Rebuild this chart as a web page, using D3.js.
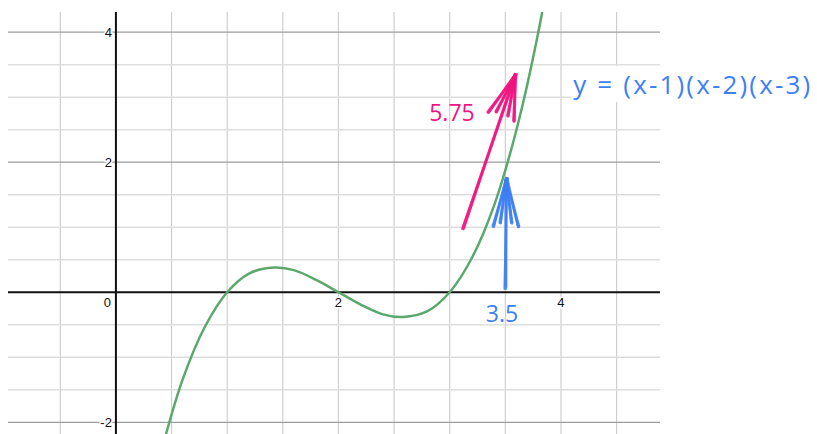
<!DOCTYPE html>
<html>
	<head>
		<meta http-equiv="Content-Type" content="text/html;charset=utf-8"/>
		<title>y = (x-1)(x-2)(x-3)</title>
		<script src="https://d3js.org/d3.v7.min.js"></script>
		<style type="text/css">
			body { margin: 0; background: #fff; }
			.grid-v { stroke: #cfcfcf; stroke-width: 1.2; }
			.grid-h { stroke: #dedede; stroke-width: 1.5; }
			.grid-h.major { stroke: #9c9c9c; stroke-width: 1.2; }
			.axis-line { stroke: #111; stroke-width: 2; }
			.tick-label {
				font-family: "Liberation Sans", Arial, sans-serif;
				font-size: 13px;
				fill: #111;
				paint-order: stroke;
				stroke: #fff;
				stroke-width: 3px;
			}
			.curve { fill: none; stroke: #5aa86b; stroke-width: 2.5; }
			.hand { font-family: "Open Sans", sans-serif; font-weight: 500; }
		</style>
	</head>
	<body>
		<script type="text/javascript">

			//Points
			var curveX = [0.30, 0.40, 0.60, 0.80, 1.00, 1.20, 1.42, 1.60, 1.80, 2.00, 2.20, 2.40, 2.58, 2.80, 3.00, 3.20, 3.40, 3.60, 3.80, 3.95];
			var curveY = [-3.22, -2.50, -1.34, -0.53, 0.00, 0.29, 0.38, 0.34, 0.19, 0.00, -0.19, -0.34, -0.38, -0.29, 0.00, 0.53, 1.34, 2.50, 4.03, 5.49];

			//Grid and tick labels
			var gridX = [-0.5, 0, 0.5, 1, 1.5, 2, 2.5, 3, 3.5, 4, 4.5];
			var gridY = [-2, -1.5, -1, -0.5, 0, 0.5, 1, 1.5, 2, 2.5, 3, 3.5, 4];
			var xLabels = [2, 4];
			var yLabels = [-2, 2, 4];

			//Annotations
			var equation = "y = (x-1)(x-2)(x-3)";
			var pinkLabel = "5.75";
			var blueLabel = "3.5";
			var pinkArrow = [[3.12, 0.98], [3.59, 3.34]];
			var blueArrow = [[3.50, 0.06], [3.51, 1.74]];

			var w = 817,
				h = 434;

			var xScale = d3.scaleLinear().domain([-0.97, 4.89]).range([8, 660]);
			var yScale = d3.scaleLinear().domain([-2.18, 4.31]).range([434, 12]);

			var svg = d3.select("body").append("svg")
						.attr("width", w)
						.attr("height", h);

			svg.append("clipPath").attr("id", "plot")
				.append("rect")
				.attr("x", 8).attr("y", 12)
				.attr("width", 652).attr("height", 422);

			//Grid
			svg.selectAll("line.grid-v")
				.data(gridX)
				.enter()
				.append("line")
				.attr("class", "grid-v")
				.attr("x1", function(d) { return xScale(d); })
				.attr("x2", function(d) { return xScale(d); })
				.attr("y1", yScale.range()[1])
				.attr("y2", yScale.range()[0]);

			svg.selectAll("line.grid-h")
				.data(gridY.filter(function(d) { return d !== 0; }))
				.enter()
				.append("line")
				.attr("class", function(d) { return d % 2 === 0 ? "grid-h major" : "grid-h"; })
				.attr("x1", xScale.range()[0])
				.attr("x2", xScale.range()[1])
				.attr("y1", function(d) { return yScale(d); })
				.attr("y2", function(d) { return yScale(d); });

			//Axes
			svg.append("line").attr("class", "axis-line")
				.attr("x1", xScale.range()[0]).attr("x2", xScale.range()[1])
				.attr("y1", yScale(0)).attr("y2", yScale(0));
			svg.append("line").attr("class", "axis-line")
				.attr("x1", xScale(0)).attr("x2", xScale(0))
				.attr("y1", yScale.range()[1]).attr("y2", yScale.range()[0]);

			//Tick labels
			svg.selectAll("text.xl")
				.data(xLabels)
				.enter()
				.append("text")
				.attr("class", "tick-label xl")
				.attr("x", function(d) { return xScale(d); })
				.attr("y", yScale(0) + 15)
				.attr("text-anchor", "middle")
				.text(function(d) { return d; });

			svg.selectAll("text.yl")
				.data(yLabels)
				.enter()
				.append("text")
				.attr("class", "tick-label yl")
				.attr("x", xScale(0) - 4)
				.attr("y", function(d) { return yScale(d); })
				.attr("dy", "0.35em")
				.attr("text-anchor", "end")
				.text(function(d) { return d; });

			svg.append("text")
				.attr("class", "tick-label")
				.attr("x", xScale(0) - 5)
				.attr("y", yScale(0) + 15)
				.attr("text-anchor", "end")
				.text("0");

			//Curve
			var line = d3.line()
				.x(function(d) { return xScale(d[0]); })
				.y(function(d) { return yScale(d[1]); })
				.curve(d3.curveCatmullRom);

			svg.append("path")
				.datum(d3.zip(curveX, curveY))
				.attr("class", "curve")
				.attr("clip-path", "url(#plot)")
				.attr("d", line);

			//Sketchy arrows: a few overlapping strokes
			var jitter = [[0, 0, 0, 0], [1.6, -1, -0.8, 0.6], [-1.4, 0.8, 1, -0.5], [0.7, 1.3, -1.3, -0.8], [-0.6, -1.5, 0.6, 1]];

			function sketchLine(g, x1, y1, x2, y2, color) {
				jitter.forEach(function(j, i) {
					g.append("line")
						.attr("x1", x1 + j[0]).attr("y1", y1 + j[1])
						.attr("x2", x2 + j[2]).attr("y2", y2 + j[3])
						.attr("stroke", color)
						.attr("stroke-width", i === 0 ? 3.2 : 1.5)
						.attr("stroke-linecap", "round")
						.attr("opacity", i === 0 ? 0.85 : 0.45);
				});
			}

			function arrow(pts, color, headLen, headAng) {
				var g = svg.append("g");
				var x1 = xScale(pts[0][0]), y1 = yScale(pts[0][1]);
				var x2 = xScale(pts[1][0]), y2 = yScale(pts[1][1]);
				sketchLine(g, x1, y1, x2, y2, color);
				var a = Math.atan2(y1 - y2, x1 - x2);
				[-headAng, -headAng / 2, headAng / 2, headAng].forEach(function(s, i) {
					var len = (i === 0 || i === 3) ? headLen : headLen * 0.9;
					sketchLine(g, x2, y2,
						x2 + len * Math.cos(a + s),
						y2 + len * Math.sin(a + s), color);
				});
			}

			arrow(pinkArrow, "#f0147f", 46, 0.3);
			arrow(blueArrow, "#3d7ff5", 49, 0.26);

			//Labels
			svg.append("text")
				.attr("class", "hand")
				.attr("x", xScale(3.02))
				.attr("y", yScale(2.63))
				.attr("text-anchor", "middle")
				.attr("font-size", 23)
				.attr("fill", "#f0147f")
				.text(pinkLabel);

			svg.append("text")
				.attr("class", "hand")
				.attr("x", xScale(3.47))
				.attr("y", yScale(-0.45))
				.attr("text-anchor", "middle")
				.attr("font-size", 23)
				.attr("fill", "#3d7ff5")
				.text(blueLabel);

			var eq = svg.append("g");
			var eqRect = eq.append("rect").attr("fill", "#fff");
			var eqText = eq.append("text")
				.attr("class", "hand")
				.attr("x", xScale(4.11))
				.attr("y", yScale(3.05))
				.attr("font-size", 26)
				.attr("fill", "#3d7ff5")
				.attr("textLength", 237)
				.text(equation);
			var bb = eqText.node().getBBox();
			eqRect.attr("x", bb.x - 2).attr("y", bb.y)
				.attr("width", bb.width + 4).attr("height", bb.height);

		</script>
	</body>
</html>
